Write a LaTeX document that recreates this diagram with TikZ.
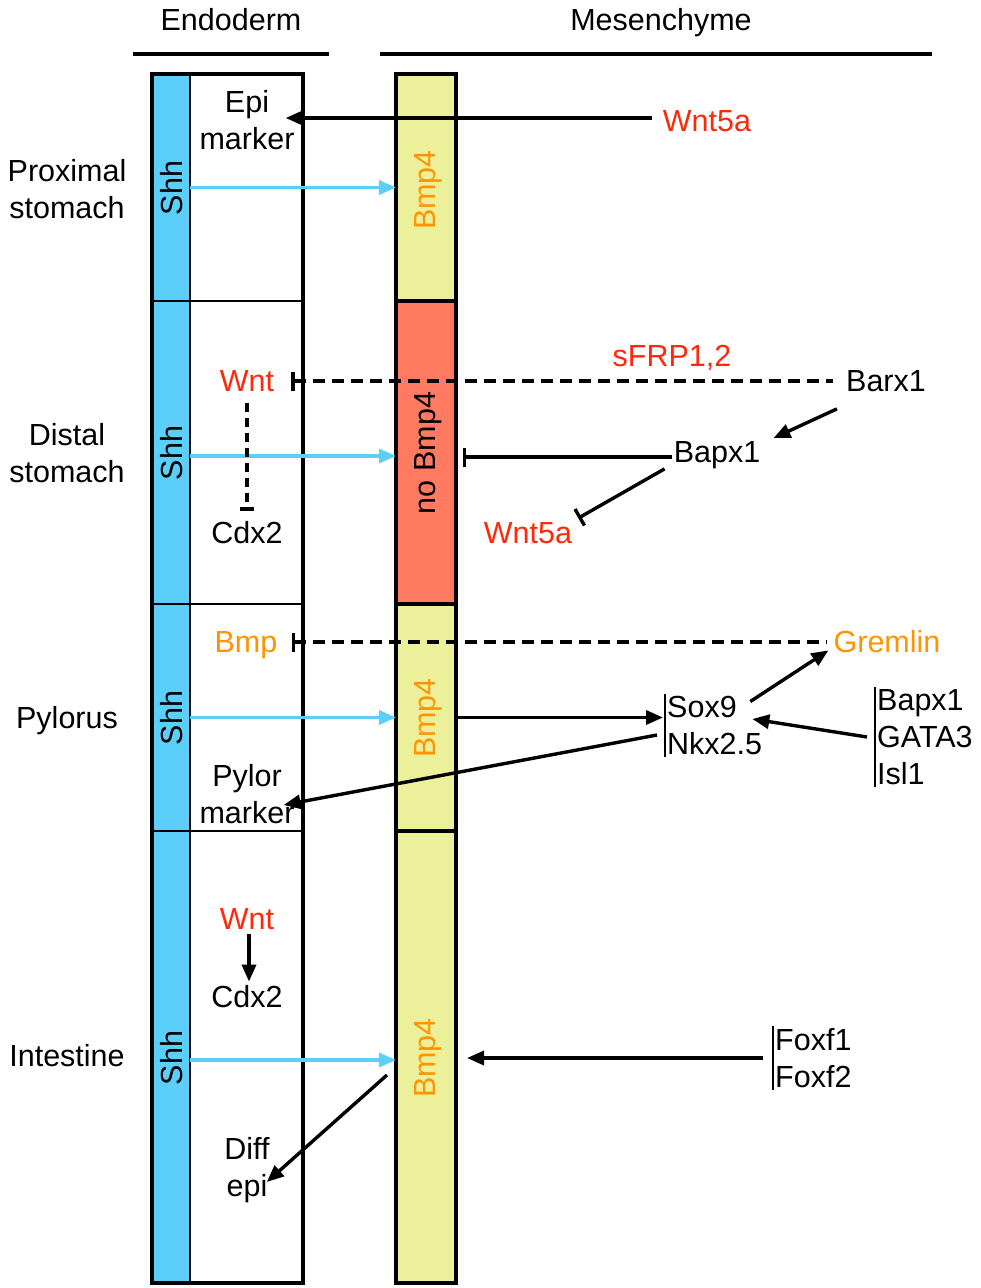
\documentclass[tikz,border=0pt]{standalone}
\usepackage{fontspec}
\setmainfont{Liberation Sans}
\usetikzlibrary{arrows.meta}
\definecolor{shhblue}{RGB}{91,206,250}
\definecolor{bmpyel}{RGB}{237,240,155}
\definecolor{nobmp}{RGB}{255,122,97}
\definecolor{tred}{RGB}{255,40,10}
\definecolor{torange}{RGB}{255,148,0}
\begin{document}
\begin{tikzpicture}[x=1pt,y=-1pt,
  lbl/.style={font=\fontsize{30.5}{37}\selectfont, inner sep=1pt, align=center},
  grp/.style={lbl, anchor=west, align=left, inner sep=2pt},
  act/.style={line width=3.4pt, -{Triangle[length=17pt,width=14pt]}},
  shharrow/.style={line width=3.4pt, draw=shhblue, -{Triangle[length=17pt,width=14pt]}},
  inh/.style={line width=3.4pt, -{Bar[width=19pt,line width=3.4pt]}},
  inhdashr/.style={line width=3.4pt, {Bar[width=19pt,line width=3.4pt]}-, dash pattern=on 12pt off 7pt},
  bseg/.style={draw, line width=1.6pt, fill=shhblue, inner sep=0pt, outer sep=0pt, minimum width=38pt},
  wseg/.style={draw, line width=1.6pt, fill=white, inner sep=0pt, outer sep=0pt, minimum width=113pt},
  mseg/.style={draw, line width=4pt, inner sep=0pt, outer sep=0pt, minimum width=60pt},
  vlab/.style={lbl, rotate=90},
  hdr/.style={line width=3.6pt}
]
\useasboundingbox (0,0) rectangle (981,1288);

% headers
\node[lbl, anchor=base] (endo) at (231,30) {Endoderm};
\node[lbl, anchor=base] (mese) at (661,30) {Mesenchyme};
\coordinate (h1a) at (133,54); \coordinate (h1b) at (329,54);
\coordinate (h2a) at (380,54); \coordinate (h2b) at (932,54);
\draw[hdr] (h1a) -- (h1b);
\draw[hdr] (h2a) -- (h2b);

% endoderm column
\node[bseg, minimum height=227pt] (b1) at (171,187.5) {};
\node[bseg, minimum height=303pt] (b2) at (171,452.5) {};
\node[bseg, minimum height=227pt] (b3) at (171,717.5) {};
\node[bseg, minimum height=452pt] (b4) at (171,1057) {};
\node[wseg, minimum height=227pt] (w1) at (246.5,187.5) {};
\node[wseg, minimum height=303pt] (w2) at (246.5,452.5) {};
\node[wseg, minimum height=227pt] (w3) at (246.5,717.5) {};
\node[wseg, minimum height=452pt] (w4) at (246.5,1057) {};
\draw[line width=4pt] (b1.north west) rectangle (w4.south east);

% mesenchyme column
\node[mseg, fill=bmpyel, minimum height=227pt] (m1) at (426,187.5) {};
\node[mseg, fill=nobmp, minimum height=303pt] (m2) at (426,452.5) {};
\node[mseg, fill=bmpyel, minimum height=227pt] (m3) at (426,717.5) {};
\node[mseg, fill=bmpyel, minimum height=452pt] (m4) at (426,1057) {};

% region labels
\node[lbl] (r1) at (67,189) {Proximal\\stomach};
\node[lbl] (r2) at (67,453) {Distal\\stomach};
\node[lbl] (r3) at (67,721) {Pylorus};
\node[lbl] (r4) at (67,1056) {Intestine};

% Shh labels
\node[vlab] (s1) at (172,188) {Shh};
\node[vlab] (s2) at (172,453) {Shh};
\node[vlab] (s3) at (172,718) {Shh};
\node[vlab] (s4) at (172,1058) {Shh};

% Bmp4 labels
\node[vlab, text=torange] (k1) at (428,190) {Bmp4};
\node[vlab] (k2) at (428,453) {no Bmp4};
\node[vlab, text=torange] (k3) at (428,718) {Bmp4};
\node[vlab, text=torange] (k4) at (428,1058) {Bmp4};

% Shh arrows
\draw[shharrow] (b1.east) -- (m1.west);
\draw[shharrow] ([yshift=-3.5pt]b2.east) -- ([yshift=-3.5pt]m2.west);
\draw[shharrow] (b3.east) -- (m3.west);
\draw[shharrow] ([yshift=-3pt]b4.east) -- ([yshift=-3pt]m4.west);

% proximal stomach
\node[lbl] (epi) at (247,120) {Epi\\marker};
\node[lbl, text=tred] (wnt5a) at (707,121) {Wnt5a};
\draw[act] ([xshift=-10pt,yshift=3pt]wnt5a.west) -- ([xshift=-10pt,yshift=2pt]epi.east);

% distal stomach
\node[lbl, text=tred] (wntA) at (247,381) {Wnt};
\node[lbl] (cdxA) at (247,533) {Cdx2};
\node[lbl] (barx) at (886,381) {Barx1};
\node[lbl, text=tred] (sfrp) at (672,358) {sFRP1,2};
\node[lbl] (bapx) at (717,455) {Bapx1};
\node[lbl, text=tred] (wnt5b) at (528,533) {Wnt5a};
\draw[inhdashr] ([xshift=16pt]wntA.east) -- ([xshift=-12pt]barx.west);
\draw[inh, dash pattern=on 9pt off 6pt, -{Bar[width=14pt,line width=3.4pt]}] ([yshift=-10pt]wntA.south) -- ([yshift=10pt]cdxA.north);
\draw[act] ([xshift=-8pt,yshift=-16pt]barx.south west) -- ([xshift=12pt,yshift=2pt]bapx.north east);
\draw[inh] ([xshift=-1pt,yshift=-2pt]bapx.west) -- ([xshift=7pt,yshift=-2pt]m2.east |- bapx.west);
\draw[inh] ([xshift=-8pt,yshift=1pt]bapx.south west) -- ([xshift=5pt,yshift=3pt]wnt5b.north east);

% pylorus
\node[lbl, text=torange] (bmp) at (246,645) {Bmp};
\node[lbl, text=torange] (grem) at (887,642) {Gremlin};
\node[lbl] (pylor) at (247,794) {Pylor\\marker};
\node[grp] (sox) at (665,725) {Sox9\\Nkx2.5};
\draw[line width=1.6pt] (sox.north west) -- (sox.south west);
\node[grp] (bgi) at (875,737) {Bapx1\\GATA3\\Isl1};
\draw[line width=1.6pt] (bgi.north west) -- (bgi.south west);
\draw[inhdashr] ([xshift=13pt]bmp.east |- grem.west) -- ([xshift=-6pt]grem.west);
\draw[act] (m3.east) -- ([xshift=-2pt]sox.west |- m3.east);
\draw[act] ([xshift=-14pt,yshift=-8pt]sox.north east) -- ([xshift=-4pt,yshift=4pt]grem.south west);
\draw[act] ([xshift=-8pt]bgi.west) -- ([xshift=-12pt,yshift=6pt]sox.east);
\draw[act] ([xshift=-8pt,yshift=-10pt]sox.west) -- ([xshift=-12pt,yshift=-11pt]pylor.east);

% intestine
\node[lbl, text=tred] (wntB) at (247,919) {Wnt};
\node[lbl] (cdxB) at (247,997) {Cdx2};
\node[lbl] (diff) at (247,1170) {Diff\\epi};
\node[grp] (fox) at (773,1058) {Foxf1\\Foxf2};
\draw[line width=1.6pt] (fox.north west) -- (fox.south west);
\draw[act] ([xshift=2pt,yshift=-3pt]wntB.south) -- ([xshift=2pt,yshift=3pt]cdxB.north);
\draw[act] ([xshift=-10pt]fox.west) -- ([xshift=11pt]m4.east |- fox.west);
\draw[act] ([xshift=-9pt,yshift=-18pt]m4.west) -- ([xshift=-4pt,yshift=-12pt]diff.east);
\end{tikzpicture}
\end{document}
